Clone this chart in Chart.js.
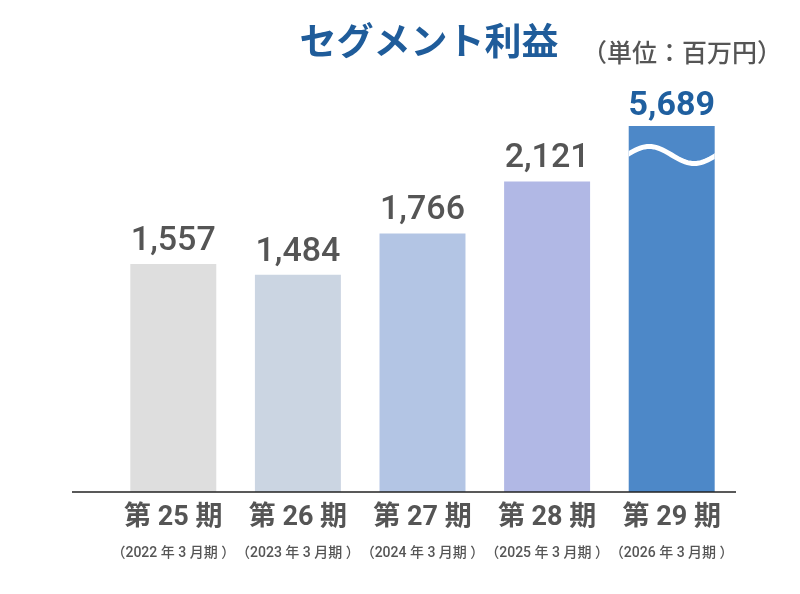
<!DOCTYPE html>
<html>
<head>
<meta charset="utf-8">
<script src="https://cdn.jsdelivr.net/npm/chart.js@4"></script>
<style>
  html, body { margin: 0; padding: 0; background: #fff; }
  #wrap { width: 800px; height: 594px; }
</style>
</head>
<body>
<div id="wrap"><canvas id="chart"></canvas></div>
<script>
const periods = ['第 25 期', '第 26 期', '第 27 期', '第 28 期', '第 29 期'];
const fiscalYears = ['（2022 年 3 月期 ）', '（2023 年 3 月期 ）', '（2024 年 3 月期 ）', '（2025 年 3 月期 ）', '（2026 年 3 月期 ）'];
const profits = [1557, 1484, 1766, 2121, 5689];
const barColors = ['#dedede', '#cbd5e2', '#b3c5e4', '#b1b8e5', '#4d88c8'];
const labelColors = ['#555555', '#555555', '#555555', '#555555', '#1f5f9f'];

const chartTitle = 'セグメント利益';
const unitText = '（単位：百万円）';
const yMax = 2500; // axis is cut, the last bar goes past it

// title, unit, base line, wave break and value labels
const decoPlugin = {
  id: 'deco',
  afterDatasetsDraw(chart) {
    const ctx = chart.ctx;
    const area = chart.chartArea;
    const yScale = chart.scales.y;
    const meta = chart.getDatasetMeta(0);

    ctx.save();
    // titles
    ctx.textBaseline = 'middle';
    ctx.textAlign = 'center';
    ctx.fillStyle = '#1f5c9a';
    ctx.font = 'bold 37px "Noto Sans CJK JP"';
    ctx.fillText(chartTitle, 429, 41);
    ctx.fillStyle = '#555555';
    ctx.font = '500 25px "Noto Sans CJK JP"';
    ctx.fillText(unitText, 682, 52);

    // base line
    const y0 = yScale.getPixelForValue(0);
    ctx.strokeStyle = '#222222';
    ctx.lineWidth = 1.5;
    ctx.beginPath();
    ctx.moveTo(area.left - 39, y0);
    ctx.lineTo(area.right + 2, y0);
    ctx.stroke();

    meta.data.forEach((bar, i) => {
      const top = Math.max(bar.y, area.top);
      const cut = profits[i] > yMax;
      if (cut) {
        const left = bar.x - bar.width / 2;
        const w = bar.width;
        const mid = top + 29;
        ctx.save();
        ctx.beginPath();
        ctx.rect(left, top, w, y0 - top);
        ctx.clip();
        ctx.strokeStyle = '#ffffff';
        ctx.lineWidth = 5;
        ctx.beginPath();
        for (let k = 0; k <= 40; k++) {
          const t = k / 40;
          const px = left - 2 + t * (w + 4);
          const py = mid - 8.5 * Math.sin(2 * Math.PI * t);
          if (k === 0) ctx.moveTo(px, py); else ctx.lineTo(px, py);
        }
        ctx.stroke();
        ctx.restore();
      }
      ctx.textAlign = 'center';
      ctx.textBaseline = 'alphabetic';
      ctx.fillStyle = labelColors[i];
      ctx.font = (cut ? 'bold ' : '500 ') + '34px Roboto';
      ctx.fillText(profits[i].toLocaleString('en-US'), bar.x, top - (cut ? 11 : 14));
    });
    ctx.restore();
  }
};

new Chart(document.getElementById('chart'), {
  type: 'bar',
  data: {
    labels: periods,
    datasets: [{
      data: profits,
      backgroundColor: barColors,
      borderWidth: 0,
      barPercentage: 0.69,
      categoryPercentage: 1.0
    }]
  },
  options: {
    responsive: true,
    maintainAspectRatio: false,
    animation: false,
    layout: { padding: { top: 126, left: 111, right: 66, bottom: 0 } },
    plugins: {
      legend: { display: false },
      tooltip: { enabled: false }
    },
    scales: {
      y: {
        display: false,
        min: 0,
        max: yMax
      },
      x: {
        weight: 0,
        border: { display: false },
        grid: { display: false, drawTicks: false },
        ticks: {
          padding: 10,
          maxRotation: 0,
          minRotation: 0,
          autoSkip: false,
          color: '#555555',
          font: { family: 'Roboto, "Noto Sans CJK JP"', size: 27, weight: 'bold' }
        },
        afterFit: (s) => { s.height = 46; }
      },
      x2: {
        type: 'category',
        position: 'bottom',
        weight: 1,
        labels: fiscalYears,
        offset: true,
        border: { display: false },
        grid: { display: false, drawTicks: false },
        ticks: {
          padding: 7,
          maxRotation: 0,
          minRotation: 0,
          autoSkip: false,
          color: '#555555',
          font: { family: 'Roboto, "Noto Sans CJK JP"', size: 14, weight: '500' }
        },
        afterFit: (s) => { s.height = 56; }
      }
    }
  },
  plugins: [decoPlugin]
});
</script>
</body>
</html>
